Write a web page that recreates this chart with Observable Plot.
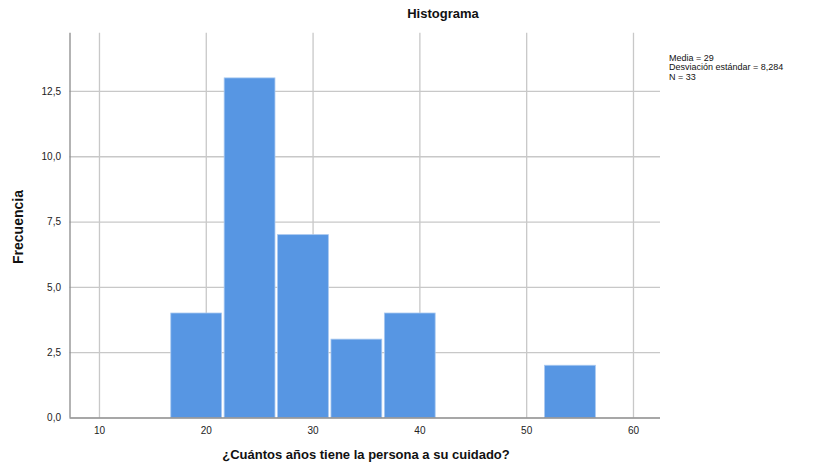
<!DOCTYPE html>
<html>
<head>
<meta charset="utf-8">
<script src="https://cdn.jsdelivr.net/npm/d3@7"></script>
<script src="https://cdn.jsdelivr.net/npm/@observablehq/plot@0.6"></script>
<style>
  html, body { margin: 0; padding: 0; background: #fff; }
  #chart svg { display: block; }
</style>
</head>
<body>
<div id="chart"></div>
<script>
const binStarts = [16.6, 21.6, 26.6, 31.6, 36.6, 51.6];
const binWidth = 5;
const counts = [4, 13, 7, 3, 4, 2];
const xTicks = [10, 20, 30, 40, 50, 60];
const yTicks = [0, 2.5, 5, 7.5, 10, 12.5];
const title = "Histograma";
const xLabel = "¿Cuántos años tiene la persona a su cuidado?";
const yLabel = "Frecuencia";
const statsLines = ["Media = 29", "Desviación estándar = 8,284", "N = 33"];

const bins = binStarts.map((s, i) => ({x1: s, x2: s + binWidth, count: counts[i]}));
const fmt = v => d3.format(".1f")(v).replace(".", ",");

const W = 816, H = 465;
const mL = 69.5, mR = 156, mT = 32.7, mB = 47.5;

const plot = Plot.plot({
  width: W,
  height: H,
  marginLeft: mL,
  marginRight: mR,
  marginTop: mT,
  marginBottom: mB,
  style: {fontFamily: "Liberation Sans, Arial, sans-serif", fontSize: "10px", color: "#222", background: "#fff"},
  x: {domain: [7.24, 62.53], ticks: xTicks},
  y: {domain: [0, 14.73], ticks: yTicks},
  marks: [
    Plot.gridX(xTicks, {stroke: "#c8c8c8", strokeOpacity: 1, strokeWidth: 1.3}),
    Plot.gridY(yTicks.filter(d => d > 0), {stroke: "#c8c8c8", strokeOpacity: 1, strokeWidth: 1.3}),
    Plot.rectY(bins, {x1: "x1", x2: "x2", y: "count", fill: "#5796e3", stroke: "#a8c8f0", strokeWidth: 0.8, insetLeft: 1.3, insetRight: 1.3}),
    Plot.axisX(xTicks, {tickSize: 0, tickPadding: 9, label: null, fontSize: 10, fill: "#222"}),
    Plot.axisY(yTicks, {tickSize: 0, tickPadding: 9, tickFormat: fmt, label: null, fontSize: 10, fill: "#222"}),
    Plot.ruleX([7.24], {stroke: "#8a8a8a", strokeWidth: 1.3}),
    Plot.ruleY([0], {stroke: "#8a8a8a", strokeWidth: 1.3})
  ]
});

document.getElementById("chart").appendChild(plot);

const svg = d3.select(plot);
const ff = "Liberation Sans, Arial, sans-serif";
svg.append("text").text(title)
  .attr("x", 443).attr("y", 18).attr("text-anchor", "middle")
  .attr("font-family", ff).attr("font-size", 13).attr("font-weight", "bold").attr("fill", "#111");
svg.append("text").text(xLabel)
  .attr("x", 366).attr("y", 459).attr("text-anchor", "middle")
  .attr("font-family", ff).attr("font-size", 13).attr("font-weight", "bold").attr("fill", "#111");
svg.append("text").text(yLabel)
  .attr("transform", "translate(23,227) rotate(-90)").attr("text-anchor", "middle")
  .attr("font-family", ff).attr("font-size", 14).attr("font-weight", "bold").attr("fill", "#111");
statsLines.forEach((s, i) => {
  svg.append("text").text(s)
    .attr("x", 669).attr("y", 61 + i * 9.4)
    .attr("font-family", ff).attr("font-size", 9)
    .attr("text-anchor", "start").attr("fill", "#111");
});
</script>
</body>
</html>
